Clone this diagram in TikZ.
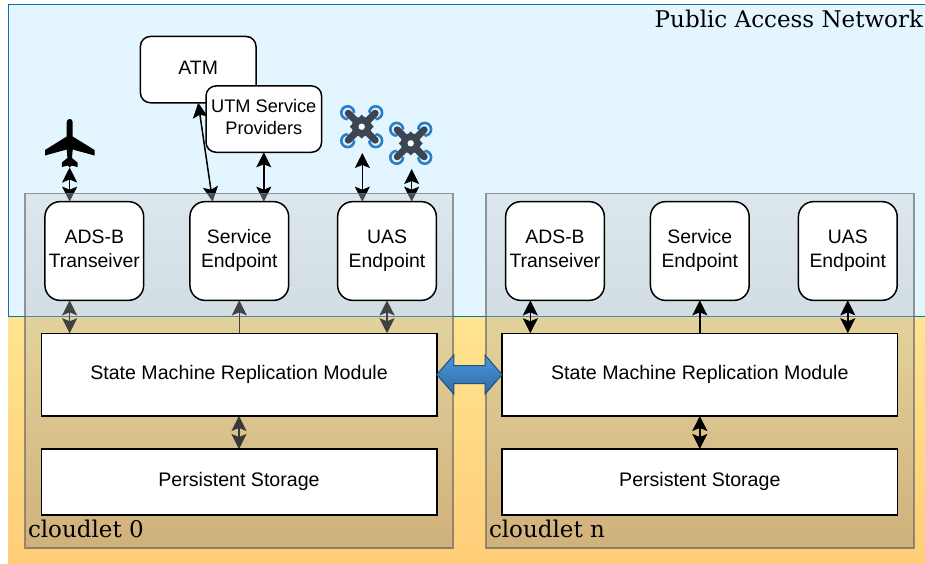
\documentclass[tikz,border=0pt]{standalone}
\usepackage{fontspec}
\setmainfont{Liberation Sans}
\newfontfamily\serifcap{DejaVu Serif}
\usetikzlibrary{arrows.meta,calc}
\pgfdeclarelayer{bgl}\pgfdeclarelayer{arrl}\pgfdeclarelayer{ovl}
\pgfsetlayers{bgl,arrl,ovl,main}
\definecolor{dronedark}{HTML}{3C4553}
\definecolor{droneblue}{HTML}{2A7DC8}
\definecolor{skyfill}{HTML}{E3F6FF}
\definecolor{skyedge}{HTML}{10739E}
\definecolor{sandtop}{HTML}{FFE48F}
\definecolor{sandbot}{HTML}{FFCD78}
\definecolor{bridgetop}{HTML}{4C96DC}
\definecolor{bridgebot}{HTML}{2E6AA6}
\definecolor{bridgeedge}{HTML}{1F4F7F}
\definecolor{cloudtop}{HTML}{D0D0D0}
\definecolor{cloudbot}{HTML}{808080}
\newcommand{\boxtext}[2]{\raisebox{#1}{\begin{tabular}{@{}c@{}}#2\end{tabular}}}
\newcommand{\drone}[2]{%
  \begin{scope}[shift={(#1,#2)}]
    \foreach \sx/\sy in {-1/-1,1/-1,-1/1,1/1}{
      \draw[droneblue,fill=skyfill,line width=2.6pt] ({14*\sx},{14*\sy}) circle[radius=6.4pt];
      \draw[skyfill,line width=10.5pt] (0,0) -- ({10.5*\sx},{10.5*\sy});
      \draw[dronedark,line width=7pt,line cap=round] (0,0) -- ({13.5*\sx},{13.5*\sy});
    }
    \fill[dronedark] (0,0) circle[radius=10pt];
    \fill[dronedark] (-12,0) -- (0,-12) -- (12,0) -- (0,12) -- cycle;
    \fill[white] (0,0) circle[radius=3.2pt];
  \end{scope}}
\tikzset{
  x=1pt,y=-1pt,
  roundbox/.style={draw=black,fill=white,line width=1.5pt,rounded corners=15pt,minimum width=98.7pt,minimum height=98.7pt,inner sep=0pt,outer sep=0pt,font=\fontsize{19.4}{24}\selectfont},
  smallbox/.style={roundbox,rounded corners=10pt,minimum width=115.6pt,minimum height=66.3pt},
  flatbox/.style={draw=black,fill=white,line width=1.5pt,sharp corners,minimum width=395.5pt,inner sep=0pt,outer sep=0pt,font=\fontsize{19.6}{24}\selectfont},
  link/.style={line width=1.5pt,black,{Stealth[length=15pt,width=15pt,inset=3pt]}-{Stealth[length=15pt,width=15pt,inset=3pt]}},
  uplink/.style={line width=1.5pt,black,-{Stealth[length=15pt,width=15pt,inset=3pt]}},
  capt/.style={font=\serifcap\fontsize{23}{24}\selectfont,inner sep=0pt,outer sep=0pt},
  cloudfill/.style={top color=cloudtop,bottom color=cloudbot,fill opacity=.37,draw=none},
  cloudedge/.style={draw=black!60!white,draw opacity=.65,line width=1.5pt},
  bigarrow/.style={draw=bridgeedge,line width=1pt,top color=bridgetop,bottom color=bridgebot,line join=miter},
}
\begin{document}
\begin{tikzpicture}
\useasboundingbox (0,0) rectangle (925,563);

% boxes
\node[smallbox] (atm) at (198.2,69.6) {\boxtext{2.5pt}{ATM}};
\node[smallbox,font=\fontsize{18.2}{22}\selectfont] (utm) at (263.8,119.1) {\boxtext{0.5pt}{UTM Service\\Providers}};

\node[roundbox] (adsL) at (94.3,251) {\boxtext{3.5pt}{ADS-B\\Transeiver}};
\node[roundbox] (svcL) at (239.3,251) {\boxtext{3.5pt}{Service\\Endpoint}};
\node[roundbox] (uasL) at (387,251) {\boxtext{3.5pt}{UAS\\Endpoint}};
\node[flatbox,minimum height=82.7pt] (smrL) at (239,374.6) {\boxtext{3.5pt}{State Machine Replication Module}};
\node[flatbox,minimum height=66pt] (psL) at (239,482) {\boxtext{2.5pt}{Persistent Storage}};

\node[roundbox] (adsR) at (555,251) {\boxtext{3.5pt}{ADS-B\\Transeiver}};
\node[roundbox] (svcR) at (699.8,251) {\boxtext{3.5pt}{Service\\Endpoint}};
\node[roundbox] (uasR) at (847.8,251) {\boxtext{3.5pt}{UAS\\Endpoint}};
\node[flatbox,minimum height=82.7pt] (smrR) at (699.8,374.6) {\boxtext{3.5pt}{State Machine Replication Module}};
\node[flatbox,minimum height=66pt] (psR) at (699.8,482) {\boxtext{2.5pt}{Persistent Storage}};

% free ends
\coordinate (plane) at ($(adsL.south west)!.25!(adsL.south east)$);
\coordinate (planeR) at ($(adsR.south west)!.25!(adsR.south east)$);
\coordinate (planeEnd) at (plane |- 0,167.5);
\coordinate (droneA) at ($(uasL.north west)!.25!(uasL.north east)$);
\coordinate (droneAEnd) at (droneA |- 0,153);
\coordinate (droneB) at ($(uasL.north west)!.75!(uasL.north east)$);
\coordinate (droneBEnd) at (droneB |- 0,169);
\coordinate (svcLtop) at ($(svcL.north west)!.23!(svcL.north east)$);

\begin{pgfonlayer}{bgl}
  \fill[white] (0,0) rectangle (925,563);
  \draw[draw=skyedge,fill=skyfill,line width=1.5pt] (8.7,4.3) rectangle (930,317);
  \fill[top color=sandtop,bottom color=sandbot,draw=none] (8,317) rectangle (925,563);
\end{pgfonlayer}

\begin{pgfonlayer}{arrl}
  % airframe
  \fill[black] (66.7,122) .. controls (66.7,118) and (72.7,118) .. (72.7,122)
    -- (72.7,136.5) -- (94.5,150) -- (94.5,155.5) -- (72.7,149.5) -- (72,158) -- (77.5,162.5) -- (77.5,167) -- (71.5,165.5) -- (69.7,167.5)
    -- (67.9,165.5) -- (61.8,167) -- (61.8,162.5) -- (67.4,158) -- (66.7,149.5) -- (45,155.5) -- (45,150) -- (66.7,136.5) -- cycle;
  \drone{361.7}{126.7}
  \drone{410.7}{143.3}
  % connectors of the left cloudlet
  \draw[link] (planeEnd) -- (plane |- adsL.north);
  \draw[link] (atm.south) -- (svcLtop);
  \draw[link] (utm.south) -- (utm.south |- svcL.north);
  \draw[link] (droneAEnd) -- (droneA);
  \draw[link] (droneBEnd) -- (droneB);
  \draw[link] (plane) -- (plane |- smrL.north);
  \draw[uplink] (svcL.south |- smrL.north) -- (svcL.south);
  \draw[link] (uasL.south) -- (uasL.south |- smrL.north);
  \draw[link] (smrL.south) -- (psL.north);
\end{pgfonlayer}

\begin{pgfonlayer}{ovl}
  \path[cloudfill] (25,193.5) rectangle (453,548);
  \draw[cloudedge] (25,193.5) rectangle (453,548);
  \path[cloudfill] (486,193.5) rectangle (914,548);
  \draw[cloudedge] (486,193.5) rectangle (914,548);
\end{pgfonlayer}

% replication link between the two modules
\draw[bigarrow] (smrL.east) -- ++(17,-19.5) -- ++(0,10.5) -- ($(smrR.west)+(-17,-9)$) -- ++(0,-10.5)
  -- (smrR.west) -- ++(-17,19.5) -- ++(0,-10.5) -- ($(smrL.east)+(17,9)$) -- ++(0,10.5) -- cycle;

% connectors of the right cloudlet
\draw[link] (planeR) -- (planeR |- smrR.north);
\draw[uplink] (svcR.south |- smrR.north) -- (svcR.south);
\draw[link] (uasR.south) -- (uasR.south |- smrR.north);
\draw[link] (smrR.south) -- (psR.north);

% captions
\node[capt,anchor=base east] (pub) at (923,27) {Public Access Network};
\node[capt,anchor=base west] (c0) at (28,537) {cloudlet 0};
\node[capt,anchor=base west] (cn) at (489,537) {cloudlet n};
\end{tikzpicture}
\end{document}
